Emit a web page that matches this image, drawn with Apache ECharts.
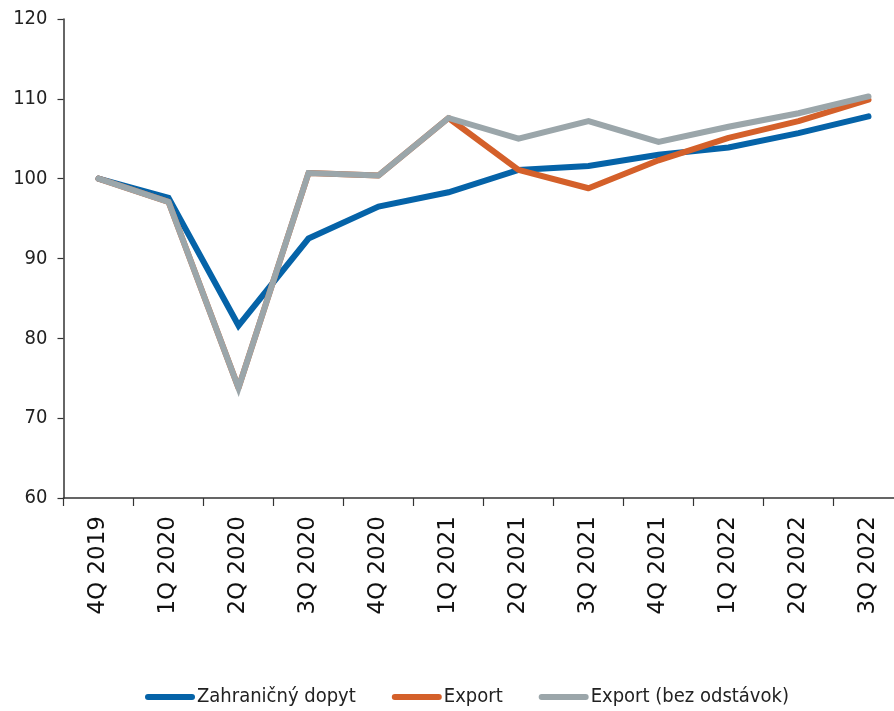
<!DOCTYPE html>
<html>
<head>
<meta charset="utf-8">
<script src="https://cdn.jsdelivr.net/npm/echarts@6/dist/echarts.min.js"></script>
<style>
  html, body { margin: 0; padding: 0; background: #fff; overflow: hidden; }
  /* the category axis runs a little past the right edge of the window */
  #chart { width: 904px; height: 711px; }
</style>
</head>
<body>
<div id="chart"></div>
<script>
// Quarterly index, 4Q 2019 = 100
const quarters = ['4Q 2019', '1Q 2020', '2Q 2020', '3Q 2020', '4Q 2020', '1Q 2021',
                  '2Q 2021', '3Q 2021', '4Q 2021', '1Q 2022', '2Q 2022', '3Q 2022'];
const zahranicnyDopyt = [100, 97.6, 81.6, 92.5, 96.5, 98.3, 101.1, 101.6, 103.0, 103.9, 105.7, 107.8];
const exportTotal     = [100, 97.1, 73.8, 100.7, 100.4, 107.6, 101.1, 98.8, 102.3, 105.1, 107.2, 109.9];
const exportBezOdst   = [100, 97.1, 73.8, 100.7, 100.4, 107.6, 105.0, 107.2, 104.6, 106.5, 108.2, 110.3];
const seriesNames = ['Zahraničný dopyt', 'Export', 'Export (bez odstávok)'];
const yTicks = { min: 60, max: 120, step: 10 };

const colors = ['#0563a8', '#d4602a', '#9ba6aa'];
const pillIcon = 'path://M3,0 L47,0 A3,3 0 0 1 47,6 L3,6 A3,3 0 0 1 3,0 Z';

function lineSeries(name, data, color, join) {
  return {
    name: name,
    type: 'line',
    data: data,
    showSymbol: false,
    symbol: 'none',
    color: color,
    lineStyle: { width: 6, color: color, join: join, miterLimit: 10, cap: 'round' },
    emphasis: { disabled: true },
    animation: false
  };
}

const chart = echarts.init(document.getElementById('chart'), null, { renderer: 'canvas' });
chart.setOption({
  animation: false,
  backgroundColor: '#ffffff',
  grid: { left: 63.5, top: 19, right: 0.5, bottom: 213, containLabel: false },
  legend: {
    left: 145,
    top: 687,
    padding: 0,
    itemWidth: 50,
    itemHeight: 6,
    itemGap: 36,
    icon: pillIcon,
    data: seriesNames,
    textStyle: { fontFamily: 'DejaVu Sans Condensed', fontSize: 20, color: '#222', lineHeight: 20, padding: [0, 0, 0, -3] }
  },
  xAxis: {
    type: 'category',
    data: quarters,
    boundaryGap: true,
    axisLine: { lineStyle: { color: '#333', width: 1.5 } },
    axisTick: { show: true, length: 8, interval: 0, lineStyle: { color: '#333', width: 1.2 } },
    axisLabel: {
      interval: 0,
      rotate: 90,
      margin: 18,
      fontFamily: 'DejaVu Sans',
      fontSize: 23,
      color: '#111'
    },
    splitLine: { show: false }
  },
  yAxis: {
    type: 'value',
    min: yTicks.min,
    max: yTicks.max,
    interval: yTicks.step,
    axisLine: { show: true, lineStyle: { color: '#333', width: 1.5 } },
    axisTick: { show: true, length: 6, lineStyle: { color: '#333', width: 1.2 } },
    axisLabel: { margin: 16, fontFamily: 'DejaVu Sans Condensed', fontSize: 20, color: '#222' },
    splitLine: { show: false }
  },
  series: [
    lineSeries(seriesNames[0], zahranicnyDopyt, colors[0], 'miter'),
    lineSeries(seriesNames[1], exportTotal, colors[1], 'round'),
    lineSeries(seriesNames[2], exportBezOdst, colors[2], 'miter')
  ]
});
</script>
</body>
</html>
